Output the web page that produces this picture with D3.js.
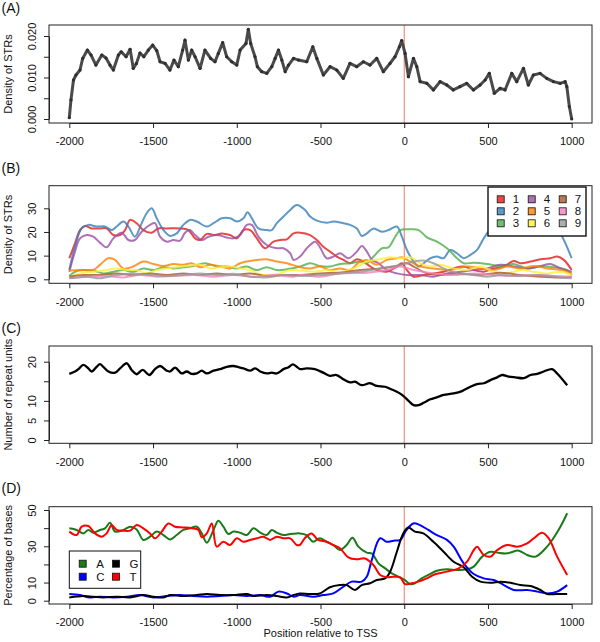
<!DOCTYPE html>
<html><head><meta charset="utf-8">
<script src="https://cdn.jsdelivr.net/npm/d3@7"></script>
<style>body{margin:0;background:#fff}svg{display:block;font-family:"Liberation Sans",Arial,Helvetica,sans-serif}</style>
</head><body>
<svg id="chart" width="600" height="642"></svg>
<script>
// ---------- DATA ----------
const xTicks = [-2000,-1500,-1000,-500,0,500,1000];

// Panel A: density of STRs [position, density]
const densityA = [[-2000,0.0003],[-1990,0.0046],[-1975,0.0094],[-1960,0.0106],[-1936,0.0118],[-1920,0.0146],[-1892,0.0166],[-1870,0.0154],[-1841,0.0130],[-1806,0.0154],[-1781,0.0147],[-1757,0.0130],[-1737,0.0118],[-1707,0.0154],[-1690,0.0162],[-1661,0.0150],[-1637,0.0168],[-1618,0.0122],[-1599,0.0134],[-1578,0.0159],[-1555,0.0150],[-1528,0.0166],[-1502,0.0178],[-1478,0.0165],[-1458,0.0138],[-1428,0.0134],[-1399,0.0118],[-1375,0.0142],[-1349,0.0126],[-1323,0.0166],[-1309,0.0190],[-1289,0.0142],[-1269,0.0166],[-1249,0.0150],[-1219,0.0122],[-1190,0.0166],[-1156,0.0146],[-1130,0.0138],[-1110,0.0158],[-1084,0.0184],[-1060,0.0150],[-1030,0.0138],[-1000,0.0130],[-980,0.0166],[-945,0.0182],[-931,0.0216],[-917,0.0182],[-891,0.0150],[-877,0.0126],[-851,0.0114],[-821,0.0110],[-791,0.0126],[-771,0.0146],[-751,0.0166],[-731,0.0142],[-711,0.0114],[-691,0.0130],[-661,0.0146],[-631,0.0142],[-582,0.0138],[-546,0.0174],[-522,0.0146],[-483,0.0106],[-443,0.0126],[-403,0.0118],[-364,0.0098],[-324,0.0134],[-284,0.0126],[-244,0.0138],[-204,0.0130],[-164,0.0146],[-125,0.0114],[-85,0.0134],[-55,0.0150],[-29,0.0174],[-15,0.0189],[5,0.0158],[25,0.0102],[55,0.0146],[75,0.0126],[95,0.0090],[135,0.0086],[174,0.0070],[214,0.0090],[254,0.0082],[293,0.0070],[333,0.0078],[373,0.0086],[413,0.0070],[453,0.0082],[483,0.0094],[508,0.0110],[538,0.0062],[572,0.0074],[602,0.0070],[642,0.0110],[672,0.0090],[712,0.0122],[741,0.0082],[771,0.0106],[811,0.0110],[851,0.0098],[891,0.0090],[931,0.0086],[961,0.0090],[971,0.0078],[986,0.0030],[1000,0.0000]];
const ticksA = [0,0.005,0.01,0.015,0.02];
const tickLabelsA = ["0.000","","0.010","","0.020"];

// Panel B: density of STRs by repeat-unit length 1..9
const unitNames = ["1","2","3","4","5","6","7","8","9"];
const unitColors = ["#E41A1C","#377EB8","#4DAF4A","#984EA3","#FF7F00","#FFEF33","#A65628","#F781BF","#999999"];
const str1 = [[-2000,8.9],[-1966,15.2],[-1936,20.8],[-1906,22.5],[-1867,21.5],[-1817,21.5],[-1777,21.5],[-1737,18.7],[-1697,18.7],[-1667,20.8],[-1637,25.1],[-1598,23.7],[-1558,20.8],[-1508,19.7],[-1468,21.5],[-1418,21.5],[-1339,21.5],[-1289,20.8],[-1249,17.3],[-1219,16.6],[-1179,19.2],[-1130,18.7],[-1090,19.4],[-1040,18.7],[-1000,17.3],[-960,20.8],[-920,20.8],[-880,17.3],[-831,13.1],[-781,15.9],[-741,16.6],[-701,16.9],[-661,19.4],[-622,19.7],[-562,18.7],[-522,16.6],[-483,13.8],[-443,11.7],[-403,9.6],[-363,8.2],[-323,6.8],[-283,8.5],[-243,7.5],[-203,5.4],[-164,3.9],[-104,3.2],[-44,5.4],[-14,6.8],[16,3.9],[56,1.1],[116,1.8],[175,2.5],[235,3.2],[295,4.6],[355,5.4],[415,3.9],[475,3.2],[534,4.6],[594,5.4],[654,7.7],[694,6.8],[754,7.5],[814,8.5],[873,8.9],[913,9.6],[953,8.2],[1000,3.9]];
const str2 = [[-2000,4],[-1966,13.8],[-1926,21.5],[-1886,23],[-1837,22.3],[-1787,22.3],[-1747,20.8],[-1717,22.3],[-1677,24.4],[-1647,22.3],[-1608,18],[-1568,23.7],[-1538,27.9],[-1508,30],[-1478,25.8],[-1438,20.8],[-1398,18.3],[-1359,19.4],[-1319,23],[-1279,25.1],[-1239,24.4],[-1179,22.3],[-1139,23.7],[-1090,25.8],[-1040,25.8],[-1000,24.4],[-960,25.8],[-936,28.3],[-910,25.8],[-871,21.5],[-821,20.8],[-791,20.8],[-761,23.7],[-721,26.5],[-681,29.3],[-642,31.4],[-592,29.3],[-562,26.5],[-522,24.8],[-463,23.9],[-423,24.4],[-363,23.7],[-323,23],[-283,21.5],[-253,18.3],[-223,19.4],[-183,21.5],[-134,20.1],[-94,20.8],[-44,22.3],[-14,18],[16,12.4],[56,7.5],[86,5.4],[116,6.8],[156,8.9],[195,9.6],[235,8.9],[275,12.4],[315,11],[355,8.9],[395,10.3],[435,12.4],[475,17.3],[514,20.6],[554,19.7],[594,20.8],[634,23],[674,23],[714,25.1],[754,25.1],[794,25.8],[853,23],[913,21.5],[953,16.6],[1000,8.9]];
const str3 = [[-2000,1.4],[-1966,3.2],[-1916,3.9],[-1857,3.7],[-1797,2.5],[-1737,3.2],[-1677,3.9],[-1618,3.2],[-1558,4.6],[-1498,3.9],[-1438,5.1],[-1378,4.6],[-1319,5.1],[-1259,5.6],[-1189,6.8],[-1120,5.4],[-1060,5.4],[-1000,4.6],[-940,5.4],[-880,3.9],[-821,5.1],[-761,3.9],[-701,4.2],[-622,5.4],[-562,6.8],[-503,5.6],[-443,5.4],[-383,6.5],[-323,6.8],[-263,7.5],[-223,6.8],[-183,9.6],[-134,13.1],[-94,13.5],[-54,18],[-24,20.8],[36,21.1],[86,20.8],[136,17.7],[195,15.9],[255,13.1],[315,8.9],[355,6.8],[415,7],[495,6.5],[574,5.6],[654,6.5],[734,4.6],[814,5.4],[893,5.1],[973,3.9],[1000,1.8]];
const str4 = [[-2000,3.2],[-1966,11.7],[-1936,17.3],[-1896,18.7],[-1857,18],[-1817,15.5],[-1777,13.5],[-1737,17.3],[-1687,19.7],[-1647,16.6],[-1608,16.6],[-1568,20.1],[-1518,23],[-1488,23.7],[-1458,18],[-1418,15.9],[-1378,16.6],[-1339,16.3],[-1309,19.7],[-1279,20.8],[-1249,18.7],[-1209,16.6],[-1169,18],[-1120,18.7],[-1060,17.7],[-1020,17.3],[-980,18.7],[-940,23],[-910,23],[-871,18],[-821,14.5],[-761,13.1],[-721,13.1],[-681,11],[-661,8.2],[-622,9.6],[-582,13.1],[-532,15.9],[-503,13.5],[-463,8.9],[-423,9.6],[-383,11],[-333,8.9],[-283,11.7],[-253,14.1],[-223,11.7],[-193,8.2],[-154,6.8],[-104,3.9],[-44,2.5],[16,1.8],[96,1.8],[175,1.1],[255,2.5],[335,3.2],[415,3.9],[495,4.6],[574,6.1],[654,5.4],[734,4.6],[814,5.6],[873,6.5],[933,4.6],[1000,3.2]];
const str5 = [[-2000,3.7],[-1936,3.9],[-1857,3.9],[-1817,6.1],[-1767,8.9],[-1727,8.2],[-1677,4.6],[-1618,5.4],[-1558,7.5],[-1498,6.5],[-1438,5.6],[-1378,6.5],[-1319,6.1],[-1269,6.8],[-1219,5.1],[-1159,6.1],[-1100,5.4],[-1040,4.6],[-980,6.8],[-940,7.5],[-880,8.2],[-821,8.5],[-761,7.5],[-701,6.8],[-622,5.1],[-562,4.6],[-503,5.4],[-443,3.9],[-383,4.6],[-323,3.9],[-273,7],[-223,8.2],[-164,6.1],[-104,8.2],[-44,8.9],[-14,9.3],[36,7.5],[96,5.4],[175,4.6],[275,3.9],[375,5.4],[455,4.6],[534,3.9],[614,5.4],[694,4.6],[774,5.6],[853,4.6],[933,3.9],[1000,2.5]];
const str6 = [[-2000,0.8],[-1936,2.5],[-1857,3.2],[-1777,3.9],[-1717,4.6],[-1657,3.9],[-1598,3.9],[-1538,2.5],[-1478,3.9],[-1418,4.6],[-1359,5.1],[-1299,5.6],[-1219,6.1],[-1159,4.6],[-1100,5.1],[-1040,5.4],[-980,4.6],[-920,3.9],[-880,2.5],[-821,1.8],[-741,2.5],[-681,3.9],[-622,3.7],[-542,3.2],[-463,3.9],[-383,3.2],[-303,4.6],[-223,7.5],[-144,8.5],[-84,9.3],[-24,8.9],[36,9.3],[96,6.8],[156,5.4],[215,6.1],[295,4.6],[375,3.9],[455,5.4],[534,3.2],[614,2.5],[694,3.9],[774,3.2],[853,2.5],[933,3.2],[1000,1.8]];
const str7 = [[-2000,1.1],[-1916,1.8],[-1817,1.8],[-1717,2.5],[-1618,1.8],[-1518,2.5],[-1418,1.8],[-1319,2.5],[-1219,1.8],[-1120,2.5],[-1020,1.8],[-920,2.5],[-821,1.4],[-721,1.8],[-622,1.8],[-503,2.5],[-383,2.8],[-263,3.9],[-144,4.6],[-44,5.6],[16,6.8],[56,5.4],[136,2.5],[215,1.8],[335,2.5],[455,1.8],[574,2.8],[694,1.8],[814,1.1],[933,0.8],[1000,1.1]];
const str8 = [[-2000,0.4],[-1896,1.1],[-1777,1.4],[-1677,0.8],[-1578,1.8],[-1478,1.1],[-1378,1.4],[-1259,1.8],[-1139,1.1],[-1020,1.8],[-900,1.1],[-781,1.8],[-661,1.1],[-622,1.8],[-503,1.1],[-383,2.5],[-223,2.8],[-104,3.9],[-24,5.4],[56,3.9],[175,2.5],[295,1.8],[415,2.5],[534,1.8],[654,1.4],[774,1.8],[893,1.4],[1000,1.1]];
const str9 = [[-2000,0.4],[-1896,1.1],[-1817,0.4],[-1717,1.8],[-1618,2.5],[-1518,1.8],[-1418,1.4],[-1319,1.8],[-1219,2.5],[-1120,1.8],[-1020,2.3],[-920,1.1],[-821,0.8],[-721,1.8],[-622,1.4],[-503,1.8],[-383,2.5],[-263,3.2],[-144,4.6],[-24,6.1],[56,7.5],[116,7.9],[175,6.8],[235,4.6],[315,2.5],[415,1.8],[495,1.1],[574,1.8],[694,1.4],[814,1.8],[933,0.8],[1000,0.4]];
const ticksB = [0,10,20,30];
const tickLabelsB = ["0","10","20","30"];

// Panel C: number of repeat units
const repeatUnits = [[-2000,16.9],[-1966,17.5],[-1946,18.1],[-1916,19.2],[-1886,18.3],[-1867,17.5],[-1837,18.7],[-1817,19.4],[-1797,18.7],[-1767,17.5],[-1727,17.2],[-1697,18.3],[-1657,19.6],[-1628,17.9],[-1598,16.8],[-1562,17.9],[-1522,16.6],[-1488,18.1],[-1458,18.9],[-1418,17.7],[-1398,17.5],[-1368,18.5],[-1329,17.0],[-1299,17.5],[-1269,16.9],[-1239,17.0],[-1209,17.7],[-1179,17.0],[-1139,17.7],[-1100,18.1],[-1060,18.7],[-1020,18.9],[-990,18.6],[-960,18.3],[-920,17.7],[-890,18.3],[-860,17.5],[-821,17.0],[-791,17.2],[-761,17.0],[-721,18.1],[-691,18.6],[-665,19.3],[-642,18.7],[-622,18.1],[-584,18.3],[-534,18.1],[-484,17.2],[-444,16.4],[-404,16.6],[-364,15.5],[-324,14.7],[-294,14.9],[-254,14.0],[-204,14.5],[-164,13.8],[-114,13.6],[-74,12.9],[-34,12.1],[-4,11.2],[26,10.0],[56,8.9],[86,8.9],[116,9.5],[156,10.4],[195,10.9],[235,11.5],[295,11.9],[345,12.5],[395,13.6],[435,14.3],[475,14.5],[515,15.3],[555,16.0],[585,16.6],[624,16.2],[664,16.0],[714,15.8],[754,16.6],[794,16.9],[833,17.5],[883,18.1],[913,17.0],[973,14.0]];
const ticksC = [0,5,10,15,20];
const tickLabelsC = ["0","5","10","","20"];

// Panel D: percentage of bases
const baseNames = ["A","C","G","T"];
const baseColors = ["#1A7A1A","#0000FF","#000000","#FF0000"];
const baseA = [[-2000,39.9],[-1956,39.0],[-1916,37.1],[-1886,39.0],[-1857,37.5],[-1817,39.0],[-1787,39.9],[-1757,43.0],[-1727,38.1],[-1677,39.0],[-1637,40.8],[-1598,39.3],[-1558,33.5],[-1518,35.3],[-1478,38.1],[-1438,36.2],[-1398,33.8],[-1359,36.2],[-1319,39.0],[-1279,39.9],[-1239,40.8],[-1209,37.1],[-1179,32.0],[-1139,39.0],[-1110,44.1],[-1080,40.8],[-1050,36.8],[-1020,38.1],[-980,37.5],[-940,36.2],[-900,39.9],[-860,37.5],[-821,36.2],[-791,39.0],[-761,37.5],[-721,36.2],[-681,36.8],[-642,37.1],[-624,37.1],[-584,36.2],[-544,32.5],[-504,34.4],[-464,32.5],[-424,30.7],[-384,27.9],[-344,30.7],[-309,34.7],[-274,29.8],[-224,26.5],[-194,26.1],[-154,20.6],[-114,17.8],[-74,15.1],[-34,13.2],[4,11.4],[34,9.2],[64,9.6],[104,12.3],[144,14.2],[195,16.5],[255,17.3],[315,16.9],[375,17.3],[415,18.8],[465,24.3],[515,27.0],[555,26.5],[614,26.1],[684,27.6],[734,25.2],[784,24.3],[853,29.8],[903,36.2],[943,42.6],[973,48.2]];
const baseC = [[-2000,3.7],[-1936,3.1],[-1877,1.8],[-1817,2.2],[-1737,1.8],[-1657,2.2],[-1578,3.1],[-1498,1.8],[-1418,2.6],[-1339,3.1],[-1259,2.6],[-1179,2.2],[-1100,2.6],[-1020,3.1],[-940,2.6],[-860,3.1],[-801,2.2],[-751,5.0],[-701,4.0],[-661,2.2],[-624,3.1],[-544,2.2],[-484,3.1],[-424,4.0],[-364,7.7],[-314,10.5],[-254,10.5],[-224,13.2],[-194,22.4],[-144,34.4],[-104,32.5],[-64,33.1],[-24,33.5],[14,39.0],[54,42.6],[94,41.7],[144,39.0],[195,36.2],[255,33.5],[295,29.8],[355,20.6],[415,14.7],[475,12.3],[535,11.4],[595,8.6],[654,5.9],[734,5.9],[794,5.0],[853,4.0],[913,5.0],[973,8.6]];
const baseG = [[-2000,1.8],[-1916,2.6],[-1857,2.2],[-1797,1.8],[-1717,2.2],[-1637,1.8],[-1558,3.1],[-1498,2.2],[-1438,1.8],[-1398,3.1],[-1319,2.6],[-1239,3.1],[-1179,3.7],[-1100,3.1],[-1020,3.1],[-940,3.7],[-900,2.6],[-821,3.1],[-761,2.6],[-701,1.8],[-661,3.1],[-624,4.0],[-564,3.7],[-504,4.0],[-444,7.4],[-384,8.6],[-344,8.6],[-294,5.9],[-254,8.6],[-204,9.6],[-164,11.4],[-114,12.3],[-84,16.0],[-44,27.0],[-6,37.1],[24,40.3],[64,38.1],[114,37.1],[174,32.5],[235,27.0],[295,21.5],[355,18.4],[405,13.2],[455,10.5],[515,9.9],[575,10.5],[634,9.9],[694,8.6],[754,8.1],[813,5.9],[853,3.7],[913,3.7],[973,3.7]];
const baseT = [[-2000,38.1],[-1956,36.2],[-1926,40.8],[-1886,41.2],[-1847,37.1],[-1807,35.3],[-1777,37.1],[-1747,41.7],[-1717,39.0],[-1677,38.6],[-1637,38.6],[-1598,41.7],[-1558,39.9],[-1518,37.1],[-1488,34.4],[-1448,38.1],[-1408,42.6],[-1369,40.8],[-1319,40.4],[-1269,39.9],[-1229,39.0],[-1209,34.9],[-1179,37.1],[-1149,42.6],[-1120,29.8],[-1080,32.5],[-1040,30.7],[-1000,34.4],[-960,32.5],[-920,33.5],[-880,34.4],[-841,35.3],[-801,33.5],[-761,35.3],[-721,34.4],[-681,34.4],[-642,30.7],[-624,30.7],[-594,34.4],[-554,37.1],[-514,33.5],[-464,32.5],[-424,30.7],[-384,28.9],[-334,23.9],[-284,22.8],[-234,23.3],[-184,19.7],[-144,14.2],[-104,12.9],[-64,13.2],[-24,12.9],[4,9.2],[44,9.6],[84,10.5],[134,12.3],[174,14.2],[224,15.4],[275,16.5],[325,17.8],[375,21.5],[415,27.9],[435,29.8],[475,25.2],[515,24.3],[555,27.9],[614,30.7],[674,29.8],[734,31.6],[774,34.4],[823,37.5],[863,34.4],[913,24.3],[973,14.2]];
const ticksD = [0,10,20,30,40,50];
const tickLabelsD = ["0","10","","30","","50"];

// ---------- DRAW ----------
const svg = d3.select("#chart");
const boxL = 49, boxR = 592;
const x = d3.scaleLinear().domain([-2000,1000]).range([69.3,571.7]);
const axisCol = "#222";

function panel(o){
  const y = d3.scaleLinear().domain(o.yDom).range(o.yRng);
  const g = svg.append("g");
  g.append("line").attr("x1",x(0)).attr("x2",x(0)).attr("y1",o.top).attr("y2",o.bottom)
    .attr("stroke","#F07A5C").attr("stroke-width",1);
  const xa = g.append("g").attr("transform",`translate(0,${o.bottom})`)
    .call(d3.axisBottom(x).tickValues(xTicks).tickSize(5).tickSizeOuter(0).tickPadding(9.5).tickFormat(d=>String(d)));
  xa.selectAll("text").attr("font-size",11).attr("fill","#111").style("font-family","Liberation Sans, Arial, sans-serif");
  xa.selectAll("line,path").attr("stroke",axisCol);
  const ya = g.append("g").attr("transform",`translate(${boxL},0)`)
    .call(d3.axisLeft(y).tickValues(o.ticks).tickSize(5).tickSizeOuter(0).tickFormat((d,i)=>o.tickLabels[i]));
  ya.selectAll("line,path").attr("stroke",axisCol);
  ya.selectAll("text").attr("x",null).attr("dy",null).attr("text-anchor","middle")
    .attr("transform","translate(-13,0) rotate(-90)").attr("font-size",11).attr("fill","#111")
    .style("font-family","Liberation Sans, Arial, sans-serif");
  g.append("rect").attr("x",boxL).attr("y",o.top).attr("width",boxR-boxL).attr("height",o.bottom-o.top)
    .attr("fill","none").attr("stroke",axisCol).attr("stroke-width",1);
  g.append("text").attr("transform",`translate(11.5,${(o.top+o.bottom)/2}) rotate(-90)`)
    .attr("text-anchor","middle").attr("font-size",11).attr("fill","#111").text(o.ytitle);
  svg.append("text").attr("x",1.5).attr("y",o.tagY).attr("font-size",14).attr("fill","#111").text(o.tag);
  return y;
}

// Panel A
const yA = panel({top:25,bottom:123,yDom:[0,0.02],yRng:[119,36],ticks:ticksA,tickLabels:tickLabelsA,ytitle:"Density of STRs",tag:"(A)",tagY:13});
const lineA = d3.line().x(d=>x(d[0])).y(d=>yA(d[1]));
svg.append("path").datum(densityA).attr("d",lineA).attr("fill","none").attr("stroke","#4a4a4a").attr("stroke-width",3).attr("stroke-linejoin","round");
svg.append("g").selectAll("circle").data(densityA).join("circle")
  .attr("cx",d=>x(d[0])).attr("cy",d=>yA(d[1])).attr("r",1.6).attr("fill","#2e2e2e");

// Panel B
const yB = panel({top:185.7,bottom:283.3,yDom:[0,30],yRng:[279.3,208.3],ticks:ticksB,tickLabels:tickLabelsB,ytitle:"Density of STRs",tag:"(B)",tagY:172.5});
const lineB = d3.line().x(d=>x(d[0])).y(d=>yB(d[1])).curve(d3.curveCatmullRom.alpha(0.5));
const seriesB = [str1,str2,str3,str4,str5,str6,str7,str8,str9];
svg.append("g").selectAll("path").data(seriesB).join("path")
  .attr("d",lineB).attr("fill","none").attr("stroke",(d,i)=>unitColors[i]).attr("stroke-opacity",0.8)
  .attr("stroke-width",2);
const lgB = svg.append("g");
lgB.append("rect").attr("x",488).attr("y",187).attr("width",98).attr("height",49).attr("fill","#fff").attr("stroke","#111").attr("stroke-width",1.4);
unitNames.forEach((n,i)=>{
  const col = Math.floor(i/3), row = i%3;
  const cx = 500.7 + col*31, cy = 199.3 + row*12;
  lgB.append("rect").attr("x",cx-3.5).attr("y",cy-3.5).attr("width",7).attr("height",7)
    .attr("fill",unitColors[i]).attr("fill-opacity",0.8).attr("stroke","#111").attr("stroke-width",0.8);
  lgB.append("text").attr("x",cx+12).attr("y",cy+4).attr("font-size",11.5).attr("fill","#111").text(n);
});

// Panel C
const yC = panel({top:346,bottom:443.3,yDom:[0,20],yRng:[440,361.7],ticks:ticksC,tickLabels:tickLabelsC,ytitle:"Number of repeat units",tag:"(C)",tagY:333});
const lineC = d3.line().x(d=>x(d[0])).y(d=>yC(d[1])).curve(d3.curveCatmullRom.alpha(0.5));
svg.append("path").datum(repeatUnits).attr("d",lineC).attr("fill","none").attr("stroke","#000").attr("stroke-width",2.3);

// Panel D
const yD = panel({top:506.7,bottom:604,yDom:[0,50],yRng:[600.7,510],ticks:ticksD,tickLabels:tickLabelsD,ytitle:"Percentage of bases",tag:"(D)",tagY:493});
const lineD = d3.line().x(d=>x(d[0])).y(d=>yD(d[1])).curve(d3.curveCatmullRom.alpha(0.5));
const seriesD = [baseA,baseC,baseG,baseT];
svg.append("g").selectAll("path").data(seriesD).join("path")
  .attr("d",lineD).attr("fill","none").attr("stroke",(d,i)=>baseColors[i]).attr("stroke-width",2);
const lgD = svg.append("g");
lgD.append("rect").attr("x",69.3).attr("y",551).attr("width",71.4).attr("height",37.3).attr("fill","#fff").attr("stroke","#111").attr("stroke-width",1);
const legOrder = [0,2,1,3];
legOrder.forEach((bi,k)=>{
  const col = k%2, row = Math.floor(k/2);
  const cx = 82.7 + col*33.3, cy = 563.7 + row*13;
  lgD.append("rect").attr("x",cx-3.5).attr("y",cy-3.5).attr("width",7).attr("height",7)
    .attr("fill",baseColors[bi]).attr("stroke","#111").attr("stroke-width",0.8);
  lgD.append("text").attr("x",cx+13.5).attr("y",cy+4).attr("font-size",11.5).attr("fill","#111").text(baseNames[bi]);
});

svg.append("text").attr("x",320.5).attr("y",637).attr("text-anchor","middle").attr("font-size",11).attr("fill","#111").text("Position relative to TSS");
</script>
</body></html>
